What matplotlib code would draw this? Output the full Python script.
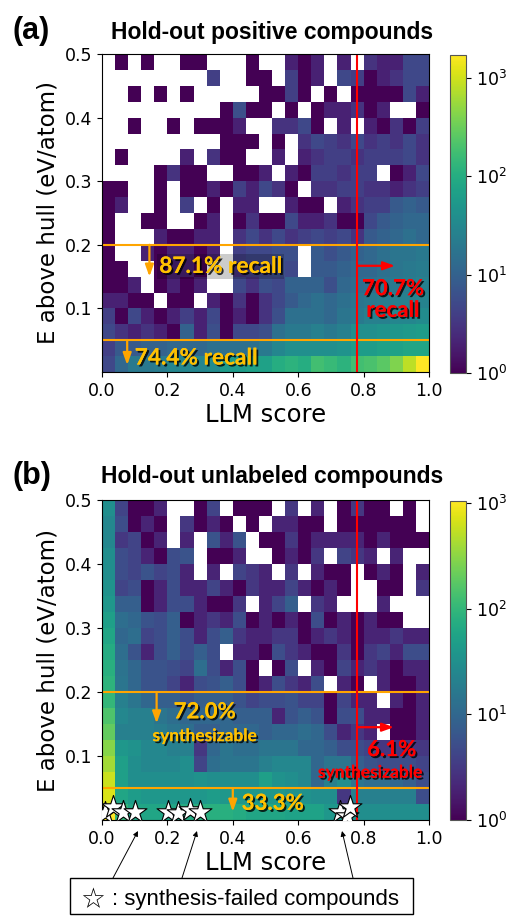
import numpy as np
import matplotlib
matplotlib.use("Agg")
import matplotlib.pyplot as plt
from matplotlib.colors import LogNorm
import matplotlib.patheffects as pe
from matplotlib.patches import FancyArrowPatch, Rectangle

# ---------------- data ----------------
# bin edges
score_bins = np.linspace(0.0, 1.0, 26)   # LLM score bins (25)
ehull_bins = np.linspace(0.0, 0.5, 21)   # E above hull bins (20)

# counts per cell, rows listed from top (E=0.475-0.5) to bottom (E=0-0.025)
counts_positive = [
    [0, 1, 0, 1, 0, 0, 1, 1, 0, 0, 0, 1, 0, 0, 2, 1, 2, 0, 2, 0, 3, 2, 2, 5, 5],
    [0, 0, 0, 0, 0, 0, 0, 0, 4, 0, 0, 1, 1, 0, 4, 1, 2, 0, 5, 4, 1, 2, 3, 5, 5],
    [0, 0, 1, 0, 1, 0, 1, 0, 0, 0, 0, 0, 1, 1, 4, 1, 0, 1, 0, 1, 1, 1, 1, 5, 2],
    [0, 0, 0, 0, 0, 0, 0, 0, 0, 1, 6, 1, 1, 0, 1, 0, 1, 2, 2, 3, 1, 2, 0, 0, 1],
    [0, 0, 1, 0, 0, 1, 0, 1, 1, 1, 2, 0, 0, 3, 3, 5, 1, 0, 2, 0, 2, 1, 3, 1, 4],
    [0, 0, 0, 0, 0, 0, 0, 0, 0, 1, 1, 1, 0, 1, 0, 3, 5, 4, 3, 5, 3, 4, 3, 5, 3],
    [0, 1, 0, 0, 0, 0, 2, 0, 3, 1, 1, 0, 0, 2, 0, 2, 3, 4, 4, 3, 4, 4, 4, 5, 3],
    [0, 0, 0, 0, 1, 3, 1, 1, 0, 0, 1, 1, 2, 0, 2, 1, 4, 4, 3, 4, 4, 0, 1, 2, 5],
    [1, 1, 0, 0, 1, 0, 1, 1, 2, 1, 4, 2, 5, 3, 1, 0, 3, 3, 4, 4, 3, 3, 2, 3, 4],
    [1, 2, 0, 0, 1, 0, 4, 0, 1, 0, 2, 2, 0, 0, 2, 1, 1, 0, 2, 3, 4, 4, 8, 10, 8],
    [1, 0, 0, 1, 1, 0, 0, 1, 2, 0, 1, 3, 1, 1, 5, 2, 2, 3, 1, 1, 5, 8, 10, 12, 12],
    [1, 0, 0, 0, 2, 1, 1, 2, 2, 0, 3, 5, 3, 5, 3, 4, 5, 4, 5, 3, 8, 10, 12, 15, 12],
    [1, 0, 0, 2, 1, 2, 2, 1, 2, 0, 4, 5, 5, 6, 6, 0, 8, 6, 8, 10, 12, 15, 18, 18, 20],
    [1, 1, 0, 0, 1, 2, 2, 1, 0, 0, 3, 4, 5, 6, 5, 0, 8, 8, 10, 12, 12, 15, 18, 20, 22],
    [1, 1, 2, 0, 1, 2, 1, 2, 0, 0, 5, 3, 6, 5, 10, 10, 10, 6, 12, 14, 15, 18, 20, 22, 25],
    [2, 2, 1, 1, 0, 1, 1, 0, 2, 1, 3, 1, 3, 5, 8, 12, 15, 12, 15, 18, 20, 22, 25, 25, 28],
    [4, 1, 5, 2, 1, 2, 4, 2, 5, 1, 2, 1, 3, 6, 15, 15, 15, 12, 18, 20, 25, 25, 30, 30, 35],
    [5, 3, 2, 3, 2, 1, 10, 2, 6, 1, 5, 5, 6, 15, 20, 20, 25, 20, 25, 40, 40, 45, 50, 55, 60],
    [4, 8, 8, 10, 10, 12, 12, 12, 15, 15, 15, 15, 20, 30, 40, 40, 40, 40, 45, 60, 60, 70, 70, 80, 80],
    [5, 12, 20, 20, 22, 30, 30, 30, 35, 60, 60, 70, 70, 100, 120, 100, 180, 150, 120, 180, 200, 250, 400, 800, 1700],
]

counts_unlabeled = [
    [30, 4, 1, 1, 2, 0, 0, 1, 4, 0, 1, 1, 1, 0, 3, 0, 2, 0, 1, 3, 1, 1, 0, 1, 0],
    [25, 5, 1, 2, 1, 0, 3, 1, 2, 1, 0, 1, 0, 2, 2, 1, 1, 0, 1, 1, 1, 1, 1, 1, 0],
    [25, 3, 4, 1, 2, 0, 2, 0, 6, 2, 6, 0, 1, 1, 3, 1, 2, 2, 2, 2, 1, 2, 1, 1, 1],
    [30, 5, 4, 2, 1, 5, 6, 0, 1, 1, 2, 0, 0, 1, 2, 1, 3, 0, 4, 3, 2, 0, 2, 0, 0],
    [30, 5, 4, 6, 4, 5, 2, 0, 2, 0, 4, 3, 2, 0, 3, 0, 2, 1, 1, 0, 1, 2, 1, 0, 2],
    [35, 4, 5, 1, 2, 5, 2, 2, 4, 2, 1, 3, 2, 2, 4, 2, 1, 2, 1, 0, 0, 1, 1, 0, 3],
    [40, 8, 8, 1, 2, 5, 5, 2, 1, 1, 3, 0, 2, 4, 8, 0, 3, 2, 0, 0, 0, 2, 0, 0, 0],
    [50, 12, 10, 6, 5, 8, 1, 2, 3, 2, 5, 1, 2, 1, 2, 1, 5, 1, 2, 1, 2, 1, 1, 0, 0],
    [60, 10, 12, 4, 5, 8, 5, 2, 5, 8, 3, 2, 2, 3, 3, 1, 2, 3, 2, 1, 2, 2, 3, 2, 2],
    [70, 12, 6, 2, 5, 8, 5, 8, 5, 0, 2, 2, 1, 5, 3, 2, 1, 1, 3, 1, 3, 4, 2, 5, 5],
    [80, 14, 10, 6, 6, 5, 4, 12, 5, 2, 5, 1, 0, 1, 5, 0, 2, 1, 4, 2, 3, 2, 1, 2, 2],
    [90, 15, 10, 6, 6, 4, 2, 5, 6, 8, 5, 1, 2, 5, 3, 2, 5, 0, 2, 1, 0, 2, 1, 1, 2],
    [100, 20, 15, 10, 8, 8, 6, 8, 8, 8, 6, 4, 5, 5, 6, 4, 4, 1, 4, 2, 2, 0, 2, 1, 2],
    [150, 25, 20, 20, 15, 12, 10, 10, 10, 10, 8, 8, 8, 2, 6, 8, 6, 1, 5, 5, 2, 2, 1, 1, 2],
    [200, 20, 20, 20, 18, 15, 12, 8, 8, 10, 10, 10, 8, 10, 10, 12, 10, 5, 2, 3, 2, 0, 1, 1, 2],
    [300, 40, 35, 25, 25, 20, 20, 3, 10, 15, 12, 12, 15, 15, 15, 10, 10, 8, 5, 5, 4, 3, 3, 3, 3],
    [400, 50, 30, 25, 25, 25, 30, 4, 12, 15, 15, 15, 20, 25, 25, 25, 10, 15, 15, 8, 6, 5, 5, 5, 4],
    [600, 50, 30, 30, 30, 30, 30, 35, 30, 30, 30, 30, 50, 35, 30, 25, 10, 20, 30, 15, 12, 12, 10, 8, 5],
    [700, 60, 45, 40, 40, 40, 40, 40, 45, 40, 40, 40, 40, 40, 35, 35, 30, 30, 3, 20, 20, 20, 20, 20, 5],
    [1050, 100, 60, 60, 60, 60, 70, 80, 80, 80, 70, 60, 60, 60, 55, 55, 55, 40, 40, 30, 30, 30, 30, 30, 30],
]

# synthesis-failed compounds (LLM score, E above hull)
failed_score = [0.008, 0.035, 0.065, 0.10, 0.203, 0.233, 0.268, 0.299, 0.727, 0.748, 0.757]
failed_ehull = [0.011, 0.021, 0.013, 0.013, 0.013, 0.011, 0.016, 0.013, 0.013, 0.007, 0.021]

score_threshold = 0.78
ehull_thresholds = [0.2, 0.05]

titles = ["Hold-out positive compounds", "Hold-out unlabeled compounds"]
panel_tags = ["(a)", "(b)"]

# ---------------- figure ----------------
W, H = 507, 916
fig = plt.figure(figsize=(W / 100, H / 100), dpi=100)


def fx(px):
    return px / W


def fy(py):
    return 1 - py / H


ORANGE = "#FFA500"
GOLD = "#FFC000"
RED = "#FF0000"
shadow = [pe.withSimplePatchShadow(offset=(1.4, -1.4), shadow_rgbFace="black", alpha=0.8), pe.Normal()]
ann_font = "Lato"

axes_specs = [(54, 372), (500, 820)]
cb_specs = [(55, 373), (501, 820)]
axes = []
for i, (counts, (top, bot), (ctop, cbot)) in enumerate(zip([counts_positive, counts_unlabeled], axes_specs, cb_specs)):
    ax = fig.add_axes([fx(102), fy(bot), fx(429) - fx(102), fy(top) - fy(bot)])
    cax = fig.add_axes([fx(450), fy(cbot), fx(466) - fx(450), fy(ctop) - fy(cbot)])
    C = np.array(counts, dtype=float)[::-1]
    M = np.ma.masked_equal(C, 0)
    cmap = plt.get_cmap("viridis").copy()
    cmap.set_bad("white")
    mesh = ax.pcolormesh(score_bins, ehull_bins, M, cmap=cmap, norm=LogNorm(vmin=1, vmax=C.max()))
    cb = fig.colorbar(mesh, cax=cax)
    cb.ax.minorticks_off()
    cb.ax.tick_params(labelsize=12.5)
    cb.outline.set_edgecolor("#555555")
    ax.set_xlim(0, 1)
    ax.set_ylim(0, 0.5)
    ax.set_xticks([0, 0.2, 0.4, 0.6, 0.8, 1.0])
    ax.set_yticks([0.1, 0.2, 0.3, 0.4, 0.5])
    ax.tick_params(labelsize=12.5)
    ax.set_xlabel("LLM score", fontsize=17.5, labelpad=2)
    ax.set_ylabel("E above hull (eV/atom)", fontsize=16.5, labelpad=4)
    for y in ehull_thresholds:
        ax.axhline(y, color=ORANGE, lw=1.5)
    ax.axvline(score_threshold, color=RED, lw=1.5)
    fig.text(fx(272), fy(32 if i == 0 else 477), titles[i], ha="center", va="center",
             fontsize=16.5, fontweight="bold", family="Liberation Sans")
    fig.text(fx(12), fy(31 if i == 0 else 476), panel_tags[i], ha="left", va="center",
             fontsize=22, fontweight="bold", family="Liberation Sans")
    axes.append(ax)


def arrow(ax, tail, tip, color):
    ax.annotate("", xy=tip, xytext=tail,
                arrowprops=dict(arrowstyle="-|>,head_width=0.25,head_length=0.7", color=color, lw=1.6,
                                shrinkA=0, shrinkB=0))


def label(ax, x, y, s, color, size, ha="left", **kw):
    ax.text(x, y, s, color=color, fontsize=size, fontweight="bold", family=ann_font,
            ha=ha, va="center", path_effects=shadow, **kw)


# panel (a) annotations
axa = axes[0]
arrow(axa, (0.145, 0.2), (0.145, 0.15), ORANGE)
label(axa, 0.175, 0.166, "87.1% recall", GOLD, 16.3,
      bbox=dict(boxstyle="square,pad=0.1", fc="black", ec="none", alpha=0.2))
arrow(axa, (0.077, 0.05), (0.077, 0.011), ORANGE)
label(axa, 0.10, 0.022, "74.4% recall", GOLD, 16.3)
arrow(axa, (score_threshold, 0.167), (0.896, 0.167), RED)
label(axa, 0.89, 0.131, "70.7%", RED, 16, ha="center")
label(axa, 0.89, 0.097, "recall", RED, 16, ha="center")

# panel (b) annotations
axb = axes[1]
arrow(axb, (0.167, 0.2), (0.167, 0.151), ORANGE)
label(axb, 0.314, 0.169, "72.0%", GOLD, 16, ha="center")
label(axb, 0.314, 0.131, "synthesizable", GOLD, 12.5, ha="center")
arrow(axb, (0.40, 0.05), (0.40, 0.013), ORANGE)
label(axb, 0.427, 0.026, "33.3%", GOLD, 16)
arrow(axb, (score_threshold, 0.145), (0.893, 0.145), RED)
label(axb, 0.886, 0.110, "6.1%", RED, 16, ha="center")
label(axb, 0.82, 0.074, "synthesizable", RED, 12.5, ha="center")

axb.scatter(failed_score, failed_ehull, marker="*", s=300, facecolor="white",
            edgecolor="black", linewidth=0.8, zorder=5)

# legend box for stars
fig.add_artist(Rectangle((fx(70), fy(914)), fx(413) - fx(70), fy(878) - fy(914),
                         transform=fig.transFigure, fc="white", ec="black", lw=1.0))
fig.text(fx(93), fy(900), "\u2606", ha="center", va="center", fontsize=20, family="DejaVu Sans")
fig.text(fx(112), fy(899), ": synthesis-failed compounds", ha="left", va="center",
         fontsize=16, family="Liberation Sans")
for (x0, y0), (x1, y1) in [((113, 878), (138, 831)), ((182, 878), (197, 831)), ((353, 878), (342, 831))]:
    fig.add_artist(FancyArrowPatch((fx(x0), fy(y0)), (fx(x1), fy(y1)), transform=fig.transFigure,
                                   arrowstyle="-|>,head_width=1.5,head_length=3", color="black", lw=0.7,
                                   shrinkA=0, shrinkB=0))

fig.savefig("out.png", dpi=100)
